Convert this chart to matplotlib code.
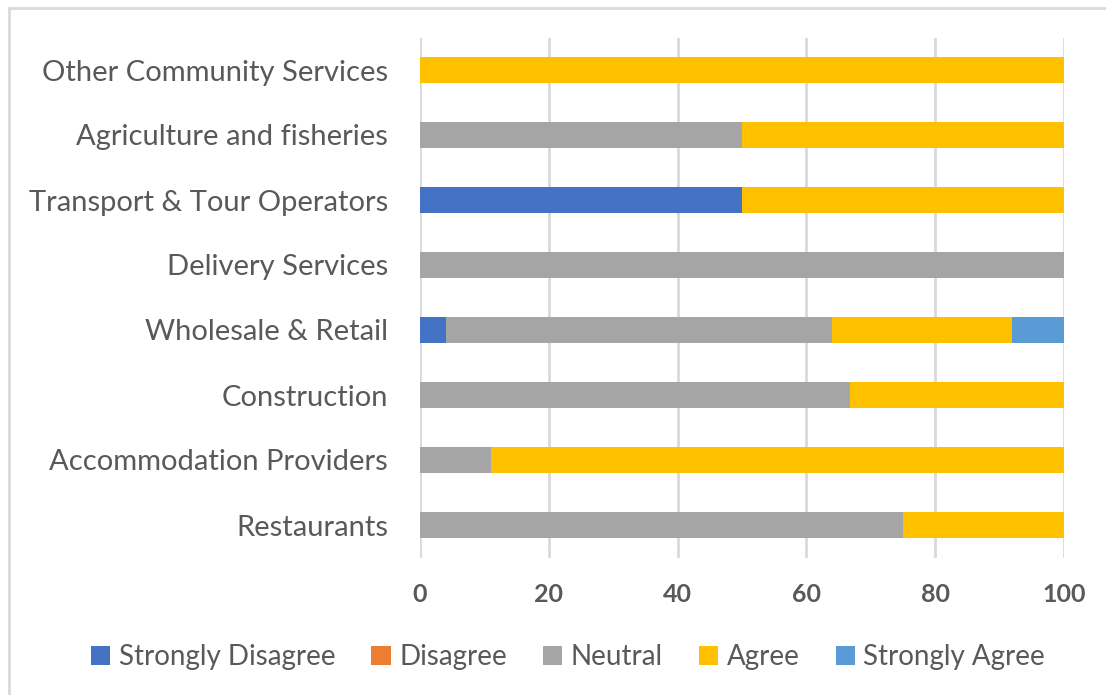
import numpy as np
import matplotlib.pyplot as plt
from matplotlib.patches import Rectangle

# sectors listed bottom to top
sectors = ["Restaurants", "Accommodation Providers", "Construction",
           "Wholesale & Retail", "Delivery Services",
           "Transport & Tour Operators", "Agriculture and fisheries",
           "Other Community Services"]

strongly_disagree = [0, 0, 0, 4, 0, 50, 0, 0]
disagree = [0, 0, 0, 0, 0, 0, 0, 0]
neutral = [75, 11.1, 66.7, 60, 100, 0, 50, 0]
agree = [25, 88.9, 33.3, 28, 0, 50, 50, 100]
strongly_agree = [0, 0, 0, 8, 0, 0, 0, 0]

series = [("Strongly Disagree", strongly_disagree, "#4472C4"),
          ("Disagree", disagree, "#ED7D31"),
          ("Neutral", neutral, "#A5A5A5"),
          ("Agree", agree, "#FFC000"),
          ("Strongly Agree", strongly_agree, "#5B9BD5")]

plt.rcParams['font.family'] = ['Lato', 'DejaVu Sans']
text_col = "#595959"

fig = plt.figure(figsize=(11.06, 6.95), dpi=100)
W, H = 1106, 695
ax = fig.add_axes([420 / W, 1 - 557.5 / H, 644 / W, 520 / H])

# chart area border, partly running off the image
fig.patches.append(Rectangle((9 / W, -0.05), 1.2, 1 - 8 / H + 0.05,
                             transform=fig.transFigure, fill=False,
                             edgecolor="#D9D9D9", linewidth=2))

y = np.arange(len(sectors))
left = np.zeros(len(sectors))
for name, vals, col in series:
    vals = np.array(vals, dtype=float)
    ax.barh(y, vals, left=left, height=0.385, color=col, label=name, zorder=3)
    left += vals

ax.set_xlim(0, 100)
ax.set_ylim(-0.5, len(sectors) - 0.5)
ax.set_xticks([0, 20, 40, 60, 80, 100])
ax.set_yticks(y)
ax.set_yticklabels(sectors, fontsize=21, color=text_col)
for lbl in ax.get_xticklabels():
    lbl.set_fontweight("bold")
ax.tick_params(axis="x", labelsize=18, labelcolor=text_col, length=0, pad=18)
ax.tick_params(axis="y", length=0, pad=23)
ax.grid(axis="x", color="#D9D9D9", linewidth=2, zorder=0)
for s in ax.spines.values():
    s.set_visible(False)

ax.legend(loc="center", bbox_to_anchor=(568 / W, 1 - 657 / H),
          bbox_transform=fig.transFigure, ncol=5, frameon=False,
          fontsize=20, labelcolor=text_col, handlelength=0.7,
          handleheight=0.7, handletextpad=0.3, columnspacing=1.3)

fig.savefig("out.png", dpi=100)
